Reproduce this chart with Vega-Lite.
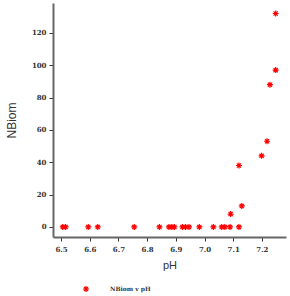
{
  "$schema": "https://vega.github.io/schema/vega-lite/v6.json",
  "width": 233,
  "height": 234,
  "autosize": {"type": "none"},
  "padding": {"left": 53, "top": 3, "right": 4, "bottom": 59},
  "background": "white",
  "config": {"view": {"stroke": null}},
  "data": {
    "values": [
      {"pH": 6.506, "NBiom": 0, "series": "NBiom v pH"},
      {"pH": 6.516, "NBiom": 0, "series": "NBiom v pH"},
      {"pH": 6.595, "NBiom": 0, "series": "NBiom v pH"},
      {"pH": 6.628, "NBiom": 0, "series": "NBiom v pH"},
      {"pH": 6.755, "NBiom": 0, "series": "NBiom v pH"},
      {"pH": 6.843, "NBiom": 0, "series": "NBiom v pH"},
      {"pH": 6.876, "NBiom": 0, "series": "NBiom v pH"},
      {"pH": 6.886, "NBiom": 0, "series": "NBiom v pH"},
      {"pH": 6.895, "NBiom": 0, "series": "NBiom v pH"},
      {"pH": 6.923, "NBiom": 0, "series": "NBiom v pH"},
      {"pH": 6.934, "NBiom": 0, "series": "NBiom v pH"},
      {"pH": 6.946, "NBiom": 0, "series": "NBiom v pH"},
      {"pH": 6.982, "NBiom": 0, "series": "NBiom v pH"},
      {"pH": 7.031, "NBiom": 0, "series": "NBiom v pH"},
      {"pH": 7.06, "NBiom": 0, "series": "NBiom v pH"},
      {"pH": 7.071, "NBiom": 0, "series": "NBiom v pH"},
      {"pH": 7.089, "NBiom": 0, "series": "NBiom v pH"},
      {"pH": 7.12, "NBiom": 0, "series": "NBiom v pH"},
      {"pH": 7.091, "NBiom": 8, "series": "NBiom v pH"},
      {"pH": 7.13, "NBiom": 13, "series": "NBiom v pH"},
      {"pH": 7.12, "NBiom": 38, "series": "NBiom v pH"},
      {"pH": 7.199, "NBiom": 44, "series": "NBiom v pH"},
      {"pH": 7.218, "NBiom": 53, "series": "NBiom v pH"},
      {"pH": 7.228, "NBiom": 88, "series": "NBiom v pH"},
      {"pH": 7.248, "NBiom": 97, "series": "NBiom v pH"},
      {"pH": 7.248, "NBiom": 132, "series": "NBiom v pH"}
    ]
  },
  "mark": {
    "type": "point",
    "shape": "M-1,0L1,0M0,-1L0,1M-0.7,-0.7L0.7,0.7M-0.7,0.7L0.7,-0.7",
    "filled": false,
    "size": 36,
    "strokeWidth": 1.2,
    "opacity": 1
  },
  "encoding": {
    "x": {
      "field": "pH",
      "type": "quantitative",
      "scale": {"domain": [6.472, 7.284], "nice": false, "zero": false},
      "axis": {
        "values": [6.5, 6.6, 6.7, 6.8, 6.9, 7.0, 7.1, 7.2],
        "format": ".1f",
        "grid": false,
        "domainColor": "#666666",
        "domainWidth": 2,
        "tickColor": "#333333",
        "tickSize": 4,
        "tickWidth": 1,
        "labelFont": "DejaVu Serif",
        "labelFontSize": 7,
        "labelFontWeight": "bold",
        "labelColor": "#333333",
        "labelPadding": 4,
        "title": "pH",
        "titleFont": "Liberation Sans",
        "titleFontSize": 11,
        "titleFontWeight": "normal",
        "titleColor": "#333333",
        "titlePadding": 7
      }
    },
    "y": {
      "field": "NBiom",
      "type": "quantitative",
      "scale": {"domain": [-6.2, 138.5], "nice": false, "zero": false},
      "axis": {
        "values": [0, 20, 40, 60, 80, 100, 120],
        "grid": false,
        "domainColor": "#666666",
        "domainWidth": 2,
        "tickColor": "#333333",
        "tickSize": 4,
        "tickWidth": 1,
        "labelFont": "DejaVu Serif",
        "labelFontSize": 7,
        "labelFontWeight": "bold",
        "labelColor": "#333333",
        "labelPadding": 3,
        "title": "NBiom",
        "titleFont": "Liberation Sans",
        "titleFontSize": 12,
        "titleFontWeight": "normal",
        "titleColor": "#333333",
        "titlePadding": 13
      }
    },
    "color": {
      "field": "series",
      "type": "nominal",
      "scale": {"range": ["#ff0000"]},
      "legend": {
        "title": null,
        "orient": "none",
        "legendX": 29,
        "legendY": 282,
        "labelFont": "DejaVu Serif",
        "labelFontSize": 6,
        "labelFontWeight": "bold",
        "labelColor": "#333333",
        "symbolSize": 36,
        "symbolStrokeWidth": 1.2,
        "labelOffset": 20
      }
    }
  }
}
